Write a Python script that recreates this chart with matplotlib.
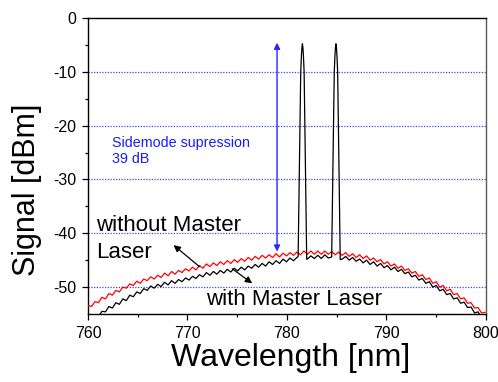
import numpy as np
import matplotlib
matplotlib.use("Agg")
import matplotlib.pyplot as plt

plt.rcParams['font.family'] = ['Liberation Sans', 'DejaVu Sans']
plt.rcParams['axes.unicode_minus'] = False

# ---- data ----
# ripple extrema wavelengths (nm), shared by both spectra
wl = [760.00, 760.35, 760.70, 761.05, 761.40, 761.75, 762.10, 762.45, 762.80, 763.15,
      763.50, 763.85, 764.20, 764.55, 764.90, 765.25, 765.60, 765.95, 766.30, 766.65,
      767.00, 767.35, 767.70, 768.05, 768.40, 768.75, 769.10, 769.45, 769.80, 770.15,
      770.50, 770.85, 771.20, 771.55, 771.90, 772.25, 772.60, 772.95, 773.30, 773.65,
      774.00, 774.35, 774.70, 775.05, 775.40, 775.75, 776.10, 776.45, 776.80, 777.15,
      777.50, 777.85, 778.20, 778.55, 778.90, 779.25, 779.60, 779.95, 780.30, 780.65,
      781.00, 781.35, 781.70, 782.05, 782.40, 782.75, 783.10, 783.45, 783.80, 784.15,
      784.50, 784.85, 785.20, 785.55, 785.90, 786.25, 786.60, 786.95, 787.30, 787.65,
      788.00, 788.35, 788.70, 789.05, 789.40, 789.75, 790.10, 790.45, 790.80, 791.15,
      791.50, 791.85, 792.20, 792.55, 792.90, 793.25, 793.60, 793.95, 794.30, 794.65,
      795.00, 795.35, 795.70, 796.05, 796.40, 796.75, 797.10, 797.45, 797.80, 798.15,
      798.50, 798.85, 799.20, 799.55, 799.90]

# spectrum without master laser (red), dBm
red_dbm = [-53.4, -53.6, -52.7, -52.9, -51.9, -52.2, -51.2, -51.5, -50.6, -50.9,
           -50.0, -50.2, -49.4, -49.7, -48.9, -49.3, -48.5, -48.8, -48.1, -48.5,
           -47.8, -48.2, -47.4, -47.9, -47.1, -47.6, -46.9, -47.3, -46.6, -47.0,
           -46.3, -46.8, -46.0, -46.5, -45.7, -46.2, -45.5, -46.0, -45.3, -45.8,
           -45.1, -45.6, -44.9, -45.4, -44.7, -45.2, -44.5, -45.0, -44.3, -44.8,
           -44.1, -44.6, -44.0, -44.5, -43.8, -44.4, -43.7, -44.2, -43.6, -44.1,
           -43.5, -44.0, -43.3, -43.9, -43.3, -43.9, -43.3, -43.9, -43.3, -43.9,
           -43.4, -44.0, -43.5, -44.1, -43.6, -44.3, -43.8, -44.5, -44.0, -44.7,
           -44.2, -45.0, -44.6, -45.3, -44.9, -45.7, -45.3, -46.1, -45.7, -46.5,
           -46.1, -46.9, -46.6, -47.4, -47.1, -48.0, -47.7, -48.6, -48.3, -49.3,
           -49.0, -50.0, -49.7, -50.7, -50.4, -51.4, -51.2, -52.2, -52.0, -53.0,
           -52.9, -53.9, -53.8, -54.8, -54.7]

# spectrum with master laser (black) background, dBm
blk_dbm = [-56.5, -56.6, -55.5, -55.5, -54.5, -54.6, -53.6, -53.9, -52.9, -53.2,
           -52.2, -52.5, -51.5, -51.8, -50.9, -51.2, -50.3, -50.6, -49.8, -50.2,
           -49.5, -49.9, -49.1, -49.6, -48.8, -49.3, -48.6, -49.0, -48.3, -48.7,
           -48.0, -48.4, -47.7, -48.1, -47.3, -47.8, -47.1, -47.6, -46.9, -47.4,
           -46.7, -47.2, -46.5, -47.0, -46.3, -46.8, -46.1, -46.5, -45.8, -46.3,
           -45.6, -46.1, -45.3, -45.8, -45.1, -45.6, -44.8, -45.3, -44.6, -45.1,
           -44.5, -45.0, -44.3, -44.8, -44.2, -44.7, -44.1, -44.7, -44.0, -44.6,
           -44.1, -44.7, -44.2, -44.8, -44.3, -45.0, -44.5, -45.2, -44.8, -45.5,
           -45.0, -45.8, -45.3, -46.1, -45.6, -46.4, -46.0, -46.8, -46.3, -47.1,
           -46.7, -47.5, -47.2, -48.1, -47.8, -48.7, -48.4, -49.3, -49.0, -50.0,
           -49.7, -50.7, -50.4, -51.4, -51.2, -52.2, -52.0, -53.0, -52.8, -53.8,
           -53.7, -54.8, -54.6, -55.7, -55.6]

# two lasing modes (black)
peak1_wl = [781.12, 781.23, 781.30, 781.38, 781.45, 781.50, 781.55, 781.60, 781.65, 781.72, 781.80, 781.87, 781.98]
peak1_dbm = [-44.3, -30.0, -20.0, -10.0, -7.0, -5.5, -4.8, -5.5, -7.0, -10.0, -20.0, -30.0, -44.8]
peak2_wl = [784.49, 784.60, 784.67, 784.75, 784.82, 784.87, 784.92, 784.97, 785.02, 785.09, 785.17, 785.24, 785.35]
peak2_dbm = [-44.4, -30.0, -20.0, -10.0, -7.0, -5.5, -4.8, -5.5, -7.0, -10.0, -20.0, -30.0, -44.9]

# annotation values
supp_wl = 779.0
supp_top = -4.6
supp_bottom = -43.4

x_ticks = [760, 770, 780, 790, 800]
y_ticks = [0, -10, -20, -30, -40, -50]

# ---- build black spectrum: background + lasing peaks ----
wl_a = np.array(wl)
blk_a = np.array(blk_dbm)
keep = np.ones(len(wl_a), dtype=bool)
for pw in (peak1_wl, peak2_wl):
    keep &= ~((wl_a > min(pw)) & (wl_a < max(pw)))
bx = np.concatenate([wl_a[keep], peak1_wl, peak2_wl])
by = np.concatenate([blk_a[keep], peak1_dbm, peak2_dbm])
order = np.argsort(bx)
bx, by = bx[order], by[order]

# ---- figure ----
fig = plt.figure(figsize=(4.98, 3.82), dpi=100)
ax = fig.add_axes([0.1767, 0.178, 0.7992, 0.775])

for yv in y_ticks[1:]:
    ax.axhline(yv, color=(0.25, 0.25, 1.0), lw=0.9, ls=(0, (1, 1.2)), zorder=1)

ax.plot(wl, red_dbm, color='red', lw=0.9, zorder=3)
ax.plot(bx, by, color='black', lw=0.9, zorder=4)

ax.set_xlim(760, 800)
ax.set_ylim(-55, 0)
ax.set_xticks(x_ticks)
ax.set_yticks(y_ticks)
ax.set_xticks(np.arange(765, 800, 10), minor=True)
ax.set_yticks([-5, -15, -25, -35, -45], minor=True)
ax.tick_params(which='major', direction='out', length=4.5, width=0.9, labelsize=11.5, pad=4)
ax.tick_params(which='minor', direction='out', length=2.5, width=0.9)
ax.tick_params(top=False, right=False, which='both')
for s in ax.spines.values():
    s.set_linewidth(1.0)
ax.spines['right'].set_color('0.35')

# suppression double arrow
ax.annotate('', xy=(supp_wl, supp_top), xytext=(supp_wl, supp_bottom),
            arrowprops=dict(arrowstyle='<|-|>', color=(0.15, 0.15, 1.0), lw=1.0,
                            mutation_scale=9, shrinkA=0, shrinkB=0), zorder=5)
ax.text(762.4, -23.9, 'Sidemode supression', color=(0.1, 0.1, 1.0), fontsize=10.3, va='baseline', ha='left')
ax.text(762.4, -27.0, '39 dB', color=(0.1, 0.1, 1.0), fontsize=10.3, va='baseline', ha='left')

# labels with arrows
ax.text(760.8, -39.5, 'without Master', fontsize=16, va='baseline', ha='left', zorder=6)
ax.text(760.8, -44.6, 'Laser', fontsize=16, va='baseline', ha='left', zorder=6)
ax.text(771.9, -53.3, 'with Master Laser', fontsize=16, va='baseline', ha='left', zorder=6)
ax.annotate('', xy=(768.6, -42.2), xytext=(771.2, -46.2),
            arrowprops=dict(arrowstyle='-|>', color='black', lw=0.9, mutation_scale=10,
                            shrinkA=0, shrinkB=0), zorder=6)
ax.annotate('', xy=(776.5, -49.3), xytext=(774.5, -46.6),
            arrowprops=dict(arrowstyle='-|>', color='black', lw=0.9, mutation_scale=10,
                            shrinkA=0, shrinkB=0), zorder=6)

fig.text(27 / 498, 1 - 190 / 382, 'Signal [dBm]', rotation=90, fontsize=22, ha='center', va='center')
fig.text(291 / 498, 1 - 358 / 382, 'Wavelength [nm]', fontsize=23, ha='center', va='center')

fig.savefig('out.png', dpi=100)
